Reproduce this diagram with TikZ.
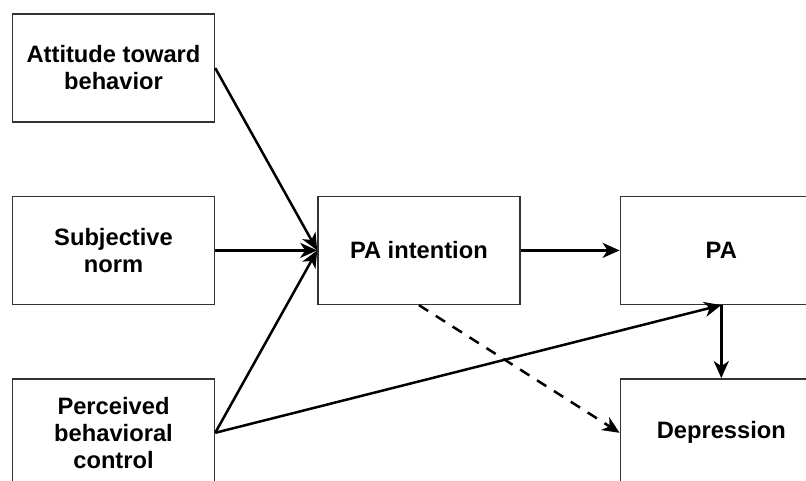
\documentclass[tikz,border=0pt]{standalone}
\usepackage{fontspec}
\setmainfont{Liberation Sans}
\usetikzlibrary{positioning, arrows.meta}
\tikzset{
        ->,  % directed edges
        >={Stealth[length=17pt,width=15pt,inset=5pt]}, % drawio-like heads
        every node/.style={font=\fontsize{23.7}{27}\selectfont\bfseries, align=center},
        box/.style={draw=black!80, line width=1.4pt, rectangle, minimum width=202pt, minimum height=108pt, inner sep=0pt}
        }

\begin{document}
\begin{tikzpicture}[line width=2.5pt]
        \useasboundingbox (0,0) rectangle (806pt,-480pt);
        \node[box](att) at (113.5pt,-68pt){Attitude toward\\behavior};
        \node[box, below=73pt of att](subj){Subjective\\norm};
        \node[box, below=73pt of subj](perc){Perceived\\behavioral\\control};
        \node[box, right=102pt of subj](intent){PA intention};
        \node[box, right=99pt of intent](pa){PA};
        \node[box, below=73pt of pa](dep){Depression};
        \draw (att.east) -- (intent.west);
        \draw (subj.east) -- (intent.west);
        \draw (perc.east) -- (intent.west);
        \draw (perc.east) -- (pa.south);
        \draw (intent.east) -- (pa.west);
        \draw (pa.south) -- (dep.north);
        \draw[dash pattern=on 11pt off 9pt] (intent.south) -- (dep.west);
\end{tikzpicture}
\end{document}
